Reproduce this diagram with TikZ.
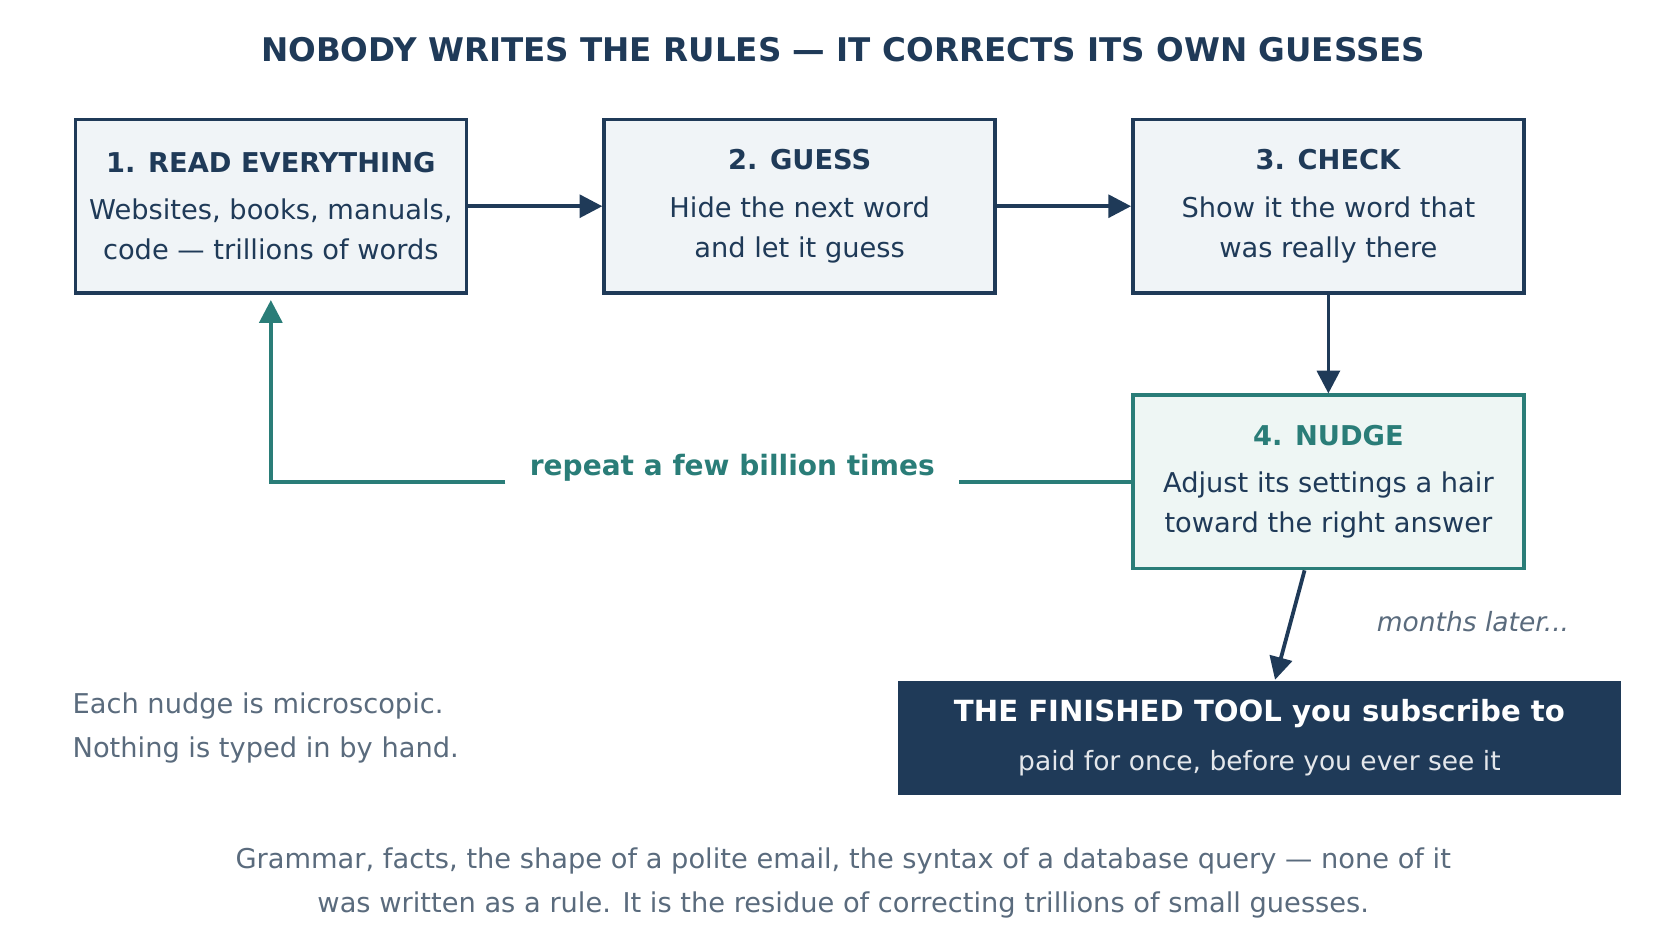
\documentclass[tikz,border=0pt]{standalone}
\usepackage{fontspec}
\setmainfont{DejaVu Sans}
\usetikzlibrary{positioning,arrows.meta,calc}
\definecolor{navycolor}{RGB}{31,58,88}
\definecolor{tealcolor}{RGB}{42,125,120}
\definecolor{greycolor}{RGB}{90,107,125}
\definecolor{boxfill}{RGB}{240,244,247}
\definecolor{nudgefill}{RGB}{238,246,244}

\begin{document}
\begin{tikzpicture}[x=0.01cm, y=-0.01cm,
    stage/.style={rectangle, draw=navycolor, line width=0.9pt, fill=boxfill, minimum width=3.63cm, minimum height=1.61cm, align=center, text=navycolor, font=\fontsize{7.2}{10.5}\selectfont},
    nudge/.style={stage, draw=tealcolor, fill=nudgefill},
    arrow/.style={-{Triangle[length=6pt, width=6pt]}, line width=1pt, navycolor},
    loop/.style={arrow, tealcolor},
    note/.style={text=greycolor, font=\fontsize{7.2}{11.5}\selectfont}
]
\useasboundingbox (0,0) rectangle (1560,883);

% Title
\node[font=\bfseries\fontsize{8.6}{10}\selectfont, text=navycolor] (title) at (783,46) {NOBODY WRITES THE RULES — IT CORRECTS ITS OWN GUESSES};

% Stages
\node[stage] (read) at (251.5,191.5) {\textbf{1. READ EVERYTHING}\\[2pt]Websites, books, manuals,\\code — trillions of words};
\node[stage] (guess) at (742.5,191.5) {\textbf{2. GUESS}\\[2pt]Hide the next word\\and let it guess};
\node[stage] (check) at (1233.5,191.5) {\textbf{3. CHECK}\\[2pt]Show it the word that\\was really there};
\node[nudge] (nudge) at (1233.5,447.5) {\textcolor{tealcolor}{\textbf{4. NUDGE}}\\[2pt]Adjust its settings a hair\\toward the right answer};

% Result
\node[rectangle, fill=navycolor, minimum width=6.71cm, minimum height=1.06cm, align=center, text=white] (tool) at (1169.5,685) {{\bfseries\fontsize{7.7}{10}\selectfont THE FINISHED TOOL you subscribe to}\\[1pt]{\fontsize{7}{10}\selectfont\color{white!88!navycolor} paid for once, before you ever see it}};

% Arrows
\draw[arrow] (read) -- (guess);
\draw[arrow] (guess) -- (check);
\draw[arrow] (check) -- (nudge);
\draw[arrow] (nudge) -- (tool);
\node[note, font=\itshape\fontsize{7}{10}\selectfont, anchor=west] (later) at (1266,577) {months later...};

% Loop back
\node[text=tealcolor, font=\bfseries\fontsize{7.4}{10}\selectfont, inner xsep=0.22cm] (repeat) at (680,434) {repeat a few billion times};
\draw[line width=1pt, tealcolor] (nudge.west) -- (repeat.east |- nudge.west);
\draw[loop] (repeat.west |- nudge.west) -| ([yshift=-0.05cm]read.south);

% Notes
\node[note, anchor=west, align=left] (micro) at (55,676) {Each nudge is microscopic.\\Nothing is typed in by hand.};
\node[note, align=center] (residue) at (783,820) {Grammar, facts, the shape of a polite email, the syntax of a database query — none of it\\was written as a rule. It is the residue of correcting trillions of small guesses.};
\end{tikzpicture}
\end{document}
